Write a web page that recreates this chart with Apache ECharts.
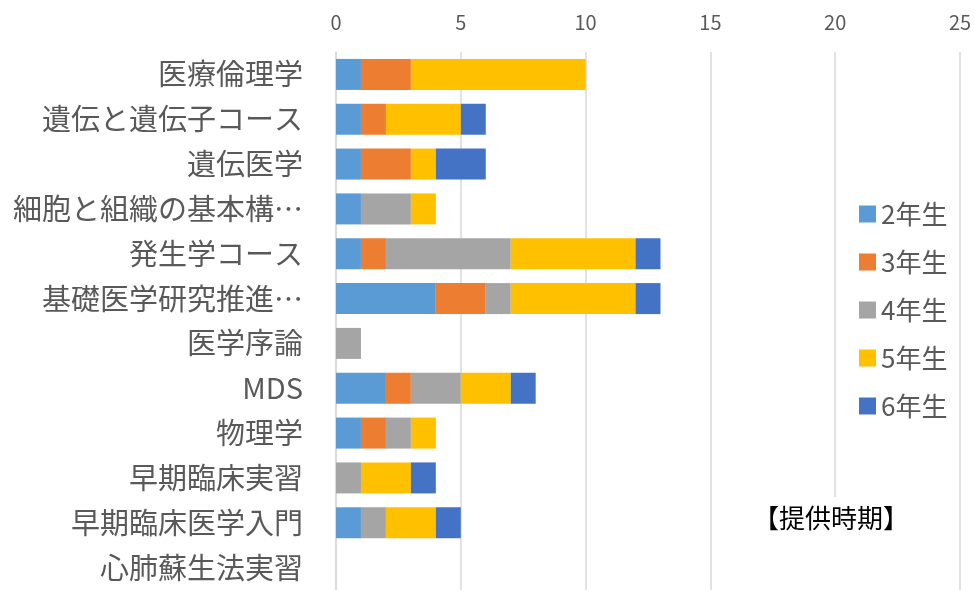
<!DOCTYPE html>
<html>
<head>
<meta charset="utf-8">
<script src="https://cdn.jsdelivr.net/npm/echarts@6/dist/echarts.min.js"></script>
<style>
  html, body { margin: 0; padding: 0; background: #fff; }
  #main { width: 975px; height: 590px; }
</style>
</head>
<body>
<div id="main"></div>
<script>
// 科目名（上から順）
var courses = ['医療倫理学', '遺伝と遺伝子コース', '遺伝医学', '細胞と組織の基本構…', '発生学コース',
    '基礎医学研究推進…', '医学序論', 'MDS', '物理学', '早期臨床実習', '早期臨床医学入門', '心肺蘇生法実習'];
var grades = ['2年生', '3年生', '4年生', '5年生', '6年生'];
// 学年ごとの件数
var year2 = [1, 1, 1, 1, 1, 4, 0, 2, 1, 0, 1, 0];
var year3 = [2, 1, 2, 0, 1, 2, 0, 1, 1, 0, 0, 0];
var year4 = [0, 0, 0, 2, 5, 1, 1, 2, 1, 1, 1, 0];
var year5 = [7, 3, 1, 1, 5, 5, 0, 2, 1, 2, 2, 0];
var year6 = [0, 1, 2, 0, 1, 1, 0, 1, 0, 1, 1, 0];
var colors = ['#5b9bd5', '#ed7d31', '#a5a5a5', '#ffc000', '#4472c4'];

var font = '"Noto Sans CJK JP", "Noto Sans", sans-serif';
var myChart = echarts.init(document.getElementById('main'));

var seriesData = [year2, year3, year4, year5, year6];
var series = [];
for (var i = 0; i < grades.length; i++) {
    series.push({
        name: grades[i],
        type: 'bar',
        stack: 'total',
        barWidth: 31,
        data: seriesData[i],
        itemStyle: { color: colors[i] },
        emphasis: { disabled: true }
    });
}

var option = {
    animation: false,
    textStyle: { fontFamily: font },
    color: colors,
    grid: { left: 336, top: 52, width: 624, height: 540 },
    legend: {
        data: grades,
        orient: 'vertical',
        left: 854,
        top: 196,
        icon: 'rect',
        itemWidth: 17,
        itemHeight: 17,
        itemGap: 22,
        textStyle: { fontSize: 26, color: '#595959', fontFamily: font }
    },
    xAxis: {
        type: 'value',
        position: 'top',
        min: 0,
        max: 25,
        interval: 5,
        axisLine: { show: false },
        axisTick: { show: false },
        axisLabel: { fontSize: 20, color: '#595959', margin: 20 },
        splitLine: { lineStyle: { color: '#d9d9d9', width: 1.5 } }
    },
    yAxis: {
        type: 'category',
        data: courses,
        inverse: true,
        axisLine: { lineStyle: { color: '#d9d9d9', width: 1.5 } },
        axisTick: { length: 9, lineStyle: { color: '#d9d9d9', width: 1.5 } },
        axisLabel: { fontSize: 29, color: '#595959', margin: 33, padding: [4, 0, 0, 0] }
    },
    graphic: [{
        type: 'rect',
        shape: { x: 745, y: 497, width: 175, height: 93 },
        style: { fill: '#ffffff' },
        z: 100
    }, {
        type: 'text',
        left: 753,
        top: 505,
        style: {
            text: '【提供時期】',
            fill: '#000000',
            fontSize: 26,
            fontFamily: font
        },
        z: 101
    }],
    series: series
};

myChart.setOption(option);
</script>
</body>
</html>
